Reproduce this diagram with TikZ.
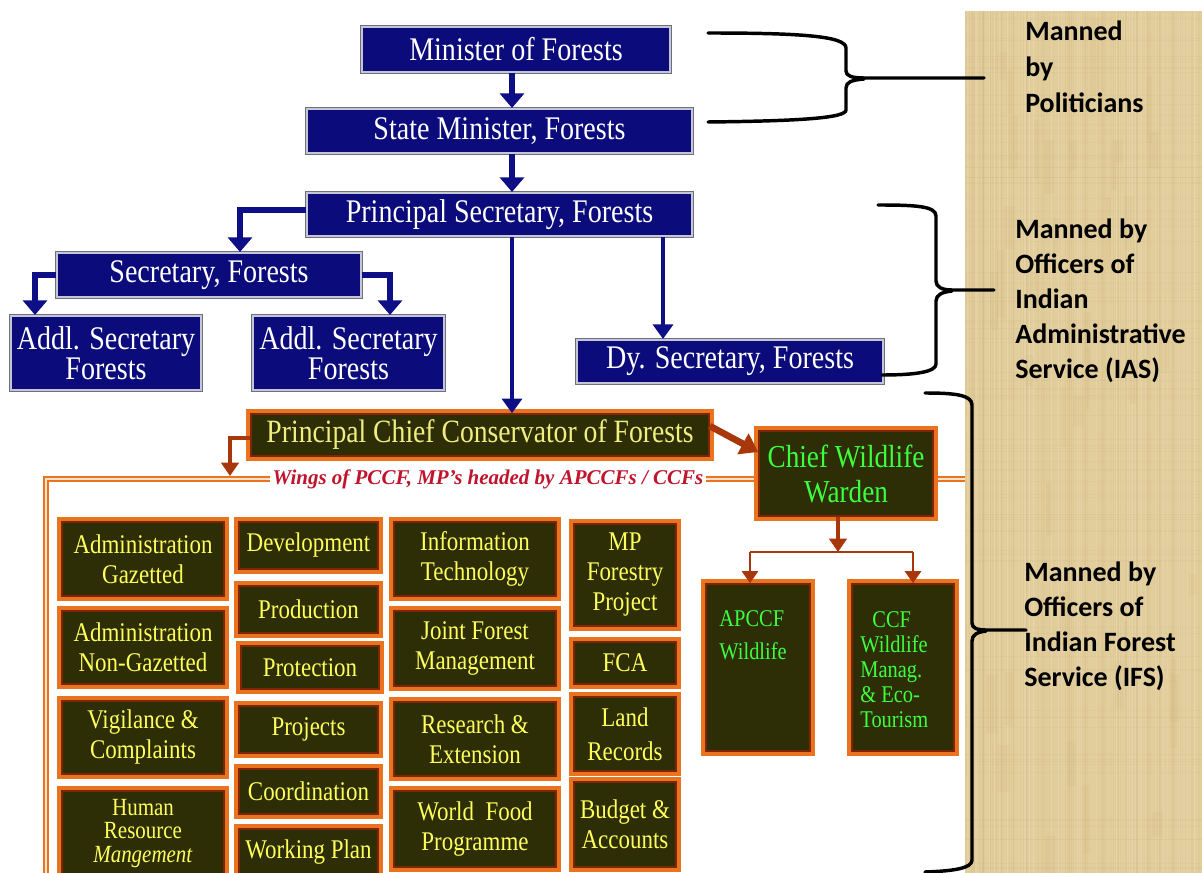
\documentclass[tikz,border=0pt]{standalone}
\usepackage{fontspec}
\setmainfont{Liberation Serif}
\newfontfamily\nserif[FakeStretch=0.85]{Liberation Serif}
\newfontfamily\carl{Carlito}
\usetikzlibrary{arrows.meta,backgrounds}
\definecolor{navyC}{HTML}{0B0B7C}
\definecolor{bordC}{HTML}{C4C6D6}
\definecolor{bordD}{HTML}{6E7080}
\definecolor{arrC}{HTML}{0E0E86}
\definecolor{orangeC}{HTML}{E9731F}
\definecolor{brownC}{HTML}{7E2604}
\definecolor{oliveC}{HTML}{2E2E06}
\definecolor{yelC}{HTML}{FFFF5C}
\definecolor{pccfC}{HTML}{F0EE80}
\definecolor{greenC}{HTML}{3DFF3D}
\definecolor{brarC}{HTML}{A8380C}
\definecolor{redC}{HTML}{C0142C}
\definecolor{tanC}{HTML}{E2CD9C}
\definecolor{tanD}{HTML}{C9AE76}
\definecolor{tanL}{HTML}{EEE0B8}
\definecolor{frameG}{HTML}{FCE4CC}
\tikzset{
  bbox/.style={fill=navyC, draw=bordC, line width=1.5pt, preaction={draw=bordD, line width=3.5pt},
    inner sep=0pt, text=white, align=center, font=\nserif\fontsize{24.75pt}{22.5pt}\selectfont},
  gbox/.style={fill=oliveC, draw=brownC, line width=1.2pt, preaction={draw=orangeC, line width=7pt},
    inner sep=0pt, text=yelC, align=center, font=\nserif\fontsize{20.25pt}{22.5pt}\selectfont},
  barrow/.style={draw=arrC, line width=4.5pt, -{Triangle[width=18pt,length=11pt]}},
  barrowl/.style={draw=arrC, line width=3.5pt, -{Triangle[width=15pt,length=11pt]}},
  brarrow/.style={draw=brarC, line width=3pt, -{Triangle[width=13pt,length=10pt]}},
  brarrowd/.style={draw=brarC, line width=5pt, -{Triangle[width=17pt,length=13pt]}},
  brarrows/.style={draw=brarC, line width=2pt, -{Triangle[width=12pt,length=9pt]}},
  brline/.style={draw=brarC, line width=2.2pt},
  frame/.style={draw=orangeC, line width=1.3pt, double=frameG, double distance=1.6pt},
  brk/.style={draw=black, line width=2.6pt, line cap=round, line join=round},
  rtxt/.style={inner sep=0pt, align=left, text=black, font=\carl\bfseries\fontsize{21pt}{27pt}\selectfont},
  lab/.style={inner sep=0pt, align=left, text=greenC, font=\nserif\fontsize{18pt}{18.75pt}\selectfont},
}
% #1 options, #2 name, #3 x1, #4 y1, #5 x2, #6 y2, #7 text (pixel coordinates)
\newcommand\mkbox[7][]{%
  \pgfmathsetmacro\bxcx{(#3+#5)/2}\pgfmathsetmacro\bxcy{(#4+#6)/2}%
  \pgfmathsetmacro\bxw{(#5-#3)*0.75}\pgfmathsetmacro\bxh{(#6-#4)*0.75}%
  \node[#1, minimum width=\bxw pt, minimum height=\bxh pt] (#2) at (\bxcx,\bxcy) {#7};}
\begin{document}
\begin{tikzpicture}[x=0.75pt,y=-0.75pt]
\useasboundingbox (0,0) rectangle (1202,873);
\clip (0,0) rectangle (1202,873);
\begin{scope}[on background layer]
\fill[white] (0,0) rectangle (1202,873);
\end{scope}
% textured panel
\fill[tanC] (965,11) rectangle (1202,873);
\pgfmathsetseed{7}
\foreach \i in {1,...,110}{\pgfmathsetmacro\xx{965+237*rnd}\pgfmathsetmacro\ww{0.3+1.0*rnd}
  \draw[tanD, opacity=0.12, line width=\ww pt] (\xx,11) -- (\xx,873);}
\foreach \i in {1,...,70}{\pgfmathsetmacro\xx{965+237*rnd}
  \draw[tanL, opacity=0.3, line width=0.8pt] (\xx,11) -- (\xx,873);}
\foreach \i in {1,...,40}{\pgfmathsetmacro\xx{965+230*rnd}\pgfmathsetmacro\yy{11+850*rnd}
  \fill[tanD, opacity=0.12] (\xx,\yy) rectangle ++(4+8*rnd,20+60*rnd);}
\foreach \i in {1,...,90}{\pgfmathsetmacro\yy{11+862*rnd}
  \draw[tanD, opacity=0.1, line width=0.5pt] (965,\yy) -- (1202,\yy);}

% blue boxes
\mkbox[bbox]{min}{362}{27}{670}{72}{Minister of Forests}
\mkbox[bbox]{sm}{307}{109}{692}{153}{State Minister, Forests}
\mkbox[bbox]{ps}{307}{193}{692}{236}{Principal Secretary, Forests}
\mkbox[bbox]{sec}{57}{253}{361}{297}{Secretary, Forests}
\mkbox[bbox]{ad1}{11}{316}{201}{390}{Addl. Secretary\\Forests}
\mkbox[bbox]{ad2}{253}{316}{444}{390}{Addl. Secretary\\Forests}
\mkbox[bbox]{dy}{577}{340}{883}{383}{Dy. Secretary, Forests}

% blue arrows
\draw[barrow] (min.south -| 512,0) -- (sm.north -| 512,0);
\draw[barrow] (sm.south -| 512,0) -- (ps.north -| 512,0);
\draw[barrow] (ps.west |- 0,210) -| (sec.north -| 240,0);
\draw[barrow] (sec.west) -| (ad1.north -| 35,0);
\draw[barrow] (sec.east) -| (ad2.north -| 390,0);

% orange boxes
\mkbox[gbox, text=pccfC, font=\nserif\fontsize{24.4pt}{24pt}\selectfont]{pccf}{251}{414}{709}{456}{Principal Chief Conservator of Forests}
\mkbox[gbox, text=greenC, font=\nserif\fontsize{24pt}{26.25pt}\selectfont]{cww}{759}{431}{933}{516}{Chief Wildlife\\Warden}
\mkbox[gbox, label={[lab, font=\nserif\fontsize{18pt}{24.75pt}\selectfont, anchor=north west, xshift=10.5pt, yshift=-20pt]north west:{APCCF\\Wildlife}}]{ap}{706}{584}{810}{751}{}
\mkbox[gbox, label={[lab, anchor=north west, xshift=6.75pt, yshift=-21pt]north west:{\hspace*{9pt}CCF\\Wildlife\\Manag.\\\& Eco-\\Tourism}}]{ccf}{852}{584}{954}{751}{}

\draw[barrowl] (ps.south -| 512,0) -- (pccf.north -| 512,0);
\draw[barrowl] (ps.south -| 663,0) -- (dy.north -| 663,0);

% wings label and frame
\node[inner sep=2pt, text=redC, font=\bfseries\itshape\fontsize{15.75pt}{18pt}\selectfont] (wg) at (488,479) {Wings of PCCF, MP's headed by APCCFs / CCFs};
\begin{scope}[on background layer]
\draw[frame] (46,880) -- (46,479) -- (wg.west);
\draw[frame] (wg.east) -- (cww.west |- wg.east);
\draw[frame] (cww.east |- wg.east) -- (965,479);
\end{scope}

% grid of wings
\mkbox[gbox]{ag}{62}{522}{224}{596}{Administration\\Gazetted}
\mkbox[gbox]{ang}{62}{611}{224}{684}{Administration\\Non-Gazetted}
\mkbox[gbox]{vc}{62}{701}{224}{774}{Vigilance \&\\Complaints}
\mkbox[gbox, font=\nserif\fontsize{18.5pt}{17.8pt}\selectfont]{hrm}{62}{791}{224}{876}{Human\\Resource\\\textit{Mangement}}
\mkbox[gbox]{dev}{239}{522}{378}{569}{Development}
\mkbox[gbox]{prod}{239}{586}{378}{633}{Production}
\mkbox[gbox]{prot}{241}{646}{379}{689}{Protection}
\mkbox[gbox]{proj}{239}{706}{378}{753}{Projects}
\mkbox[gbox]{coord}{239}{769}{378}{814}{Coordination}
\mkbox[gbox]{wp}{239}{829}{378}{876}{Working Plan}
\mkbox[gbox]{it}{394}{522}{556}{596}{Information\\Technology}
\mkbox[gbox]{jfm}{394}{611}{556}{686}{Joint Forest\\Management}
\mkbox[gbox]{re}{394}{702}{556}{776}{Research \&\\Extension}
\mkbox[gbox]{wfp}{394}{791}{556}{867}{World\ \ Food\\Programme}
\mkbox[gbox]{mp}{574}{524}{676}{626}{MP\\Forestry\\Project}
\mkbox[gbox]{fca}{574}{642}{676}{684}{FCA}
\mkbox[gbox]{lr}{574}{697}{676}{771}{Land\\[3pt]Records}
\mkbox[gbox]{ba}{574}{782}{676}{867}{Budget \&\\Accounts}

% brown arrows
\coordinate (fr) at (230,476);
\draw[brarrow] (pccf.west |- 0,438) -| (fr);
\draw[brarrowd] (pccf.east |- 0,426) -- (cww.west |- 0,452);
\coordinate (jn) at (838,552);
\coordinate (jl) at (750,552);
\coordinate (jr) at (913,552);
\draw[brarrow] (cww.south -| jn) -- (jn);
\draw[brline] (jl) -- (jr);
\draw[brarrows] (jl) -- (ap.north -| jl);
\draw[brarrows] (jr) -- (ccf.north -| jr);

% right-hand texts
\node[rtxt, anchor=north west] (pol) at (1025,21) {Manned\\by\\Politicians};
\node[rtxt, font=\carl\bfseries\fontsize{21pt}{26.25pt}\selectfont, anchor=north west] (ias) at (1015,219) {Manned by\\Officers of\\Indian\\Administrative\\Service (IAS)};
\node[rtxt, font=\carl\bfseries\fontsize{21pt}{26.25pt}\selectfont, anchor=north west] (ifs) at (1024,562) {Manned by\\Officers of\\Indian Forest\\Service (IFS)};

% brackets
\draw[brk] (708,33) .. controls (800,33) and (846,36) .. (846,48) -- (846,71) .. controls (846,76) and (852,78) .. (864,78) -- (984,78);
\draw[brk] (864,79) .. controls (852,80) and (846,82) .. (846,88) -- (846,110) .. controls (846,118) and (800,121) .. (708,122);
\draw[brk] (878,205) .. controls (915,205) and (936,206) .. (936,216) -- (936,281) .. controls (936,287) and (942,290) .. (952,290) -- (994,290);
\draw[brk] (952,291) .. controls (942,292) and (936,295) .. (936,301) -- (936,364) .. controls (936,372) and (915,375) .. (882,375);
\draw[brk] (925,393) .. controls (955,393) and (972,395) .. (972,405) -- (972,623) .. controls (972,628) and (977,630) .. (986,630) -- (1026,630);
\draw[brk] (986,631) .. controls (977,632) and (972,635) .. (972,641) -- (972,860) .. controls (972,868) and (955,871) .. (925,872);
\end{tikzpicture}
\end{document}
